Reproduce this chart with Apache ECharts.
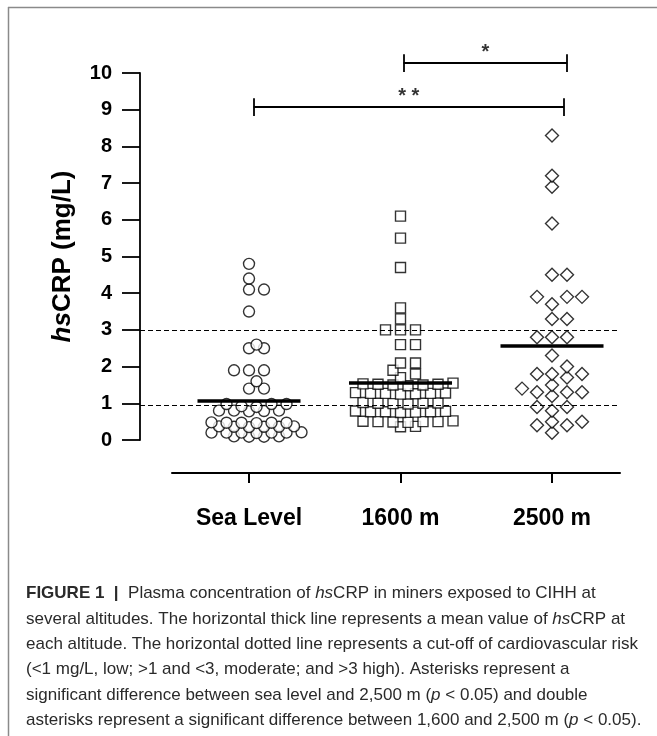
<!DOCTYPE html>
<html><head><meta charset="utf-8">
<script src="https://cdn.jsdelivr.net/npm/echarts@6/dist/echarts.min.js"></script>
<style>html,body{margin:0;padding:0;background:#fff}#c{width:657px;height:736px}</style>
</head><body><div id="c"></div>
<script>
const categories = ['Sea Level', '1600 m', '2500 m'];
const seaLevel = [4.8, 4.4, 4.1, 4.1, 3.5, 2.6, 2.5, 2.5, 1.9, 1.9, 1.9, 1.6, 1.4, 1.4,
  0.98, 0.98, 0.98, 0.92, 0.9, 0.8, 0.8, 0.8, 0.79, 0.78, 0.48, 0.47, 0.47, 0.46, 0.47, 0.47,
  0.36, 0.37, 0.35, 0.36, 0.36, 0.37, 0.2, 0.21, 0.2, 0.2, 0.19, 0.2, 0.2, 0.1, 0.09, 0.09, 0.1];
const alt1600 = [6.1, 5.5, 4.7, 3.6, 3.3, 3.0, 3.0, 3.0, 2.6, 2.6, 2.1, 2.1, 1.9, 1.8, 1.7,
  1.52, 1.5, 1.55, 1.5, 1.52, 1.48, 1.53, 1.27, 1.28, 1.26, 1.27, 1.25, 1.29, 1.27,
  1.0, 1.01, 0.99, 1.0, 1.02, 0.98, 0.77, 0.78, 0.76, 0.77, 0.79, 0.75, 0.77,
  0.5, 0.51, 0.49, 0.5, 0.52, 0.48, 0.5, 0.36, 0.37];
const alt2500 = [8.3, 7.2, 6.9, 5.9, 4.5, 4.5, 3.9, 3.9, 3.9, 3.7, 3.3, 3.3, 2.8, 2.8, 2.8,
  2.3, 2.0, 1.8, 1.8, 1.7, 1.8, 1.5, 1.4, 1.3, 1.3, 1.3, 1.2, 0.9, 0.9, 0.8, 0.5, 0.4, 0.4, 0.5, 0.2];
const meanValues = [1.06, 1.55, 2.56];
const cutoffValues = [3.0, 0.94];
const sigBars = [
  { from: 1.03, to: 3.08, level: 9.07, text: '* *' },
  { from: 2.02, to: 3.10, level: 10.27, text: '*' }
];
const captionLines = [
  '{b|FIGURE 1  |}  Plasma concentration of {i|hs}CRP in miners exposed to CIHH at',
  'several altitudes. The horizontal thick line represents a mean value of {i|hs}CRP at',
  'each altitude. The horizontal dotted line represents a cut-off of cardiovascular risk',
  '(<1 mg/L, low; >1 and <3, moderate; and >3 high). Asterisks represent a',
  'significant difference between sea level and 2,500 m ({i|p} < 0.05) and double',
  'asterisks represent a significant difference between 1,600 and 2,500 m ({i|p} < 0.05).'
];

// layout constants (pixels per unit)
const PX_X = 151.5, PX_Y = 36.7;
function swarm(vals, center, d) {
  const step = 7.5;
  const placed = [];
  const ks = [0];
  for (let k = 1; k <= 16; k++) ks.push(k, -k);
  return vals.slice().sort((a, b) => a - b).map(v => {
    const py = v * PX_Y;
    for (const k of ks) {
      const px = k * step;
      if (placed.every(p => (p[0] - px) ** 2 + (p[1] - py) ** 2 >= d * d)) {
        placed.push([px, py]);
        return [center + px / PX_X, v];
      }
    }
    return [center, v];
  });
}

const FONT = "'Liberation Sans', Arial, sans-serif";
const chart = echarts.init(document.getElementById('c'), null, { renderer: 'canvas' });
const marker = { color: '#fff', borderColor: '#000', borderWidth: 1.4 };
const half = 0.34;
const capH = 0.24;

const sigSegs = [];
sigBars.forEach(b => {
  sigSegs.push({ coords: [[b.from, b.level], [b.to, b.level]] });
  sigSegs.push({ coords: [[b.from, b.level - capH], [b.from, b.level + capH]] });
  sigSegs.push({ coords: [[b.to, b.level - capH], [b.to, b.level + capH]] });
});

const CAP_FILL = '#2a2a2a';
chart.setOption({
  animation: false,
  backgroundColor: '#fff',
  grid: [
    { left: 140, top: 73, width: 479, height: 367 },
    { left: 172, top: 472, width: 448, height: 1 }
  ],
  xAxis: [
    { type: 'value', gridIndex: 0, min: 0.2805, max: 3.4422, show: false },
    {
      type: 'value', gridIndex: 1, min: 0.4917, max: 3.4488,
      axisLine: { show: true, lineStyle: { color: '#000', width: 2 } },
      axisTick: { show: true, customValues: [1, 2, 3], length: 10, lineStyle: { color: '#000', width: 2 } },
      axisLabel: {
        customValues: [1, 2, 3], formatter: v => categories[Math.round(v) - 1],
        fontSize: 23, fontWeight: 'bold', color: '#000', fontFamily: FONT, margin: 34
      },
      splitLine: { show: false }
    }
  ],
  yAxis: [
    {
      type: 'value', gridIndex: 0, min: 0, max: 10, interval: 1,
      name: '{i|hs}{b|CRP (mg/L)}', nameLocation: 'middle', nameGap: 64,
      nameTextStyle: {
        fontSize: 26, fontWeight: 'bold', color: '#000', fontFamily: FONT,
        rich: {
          i: { fontSize: 26, fontWeight: 'bold', fontStyle: 'italic', color: '#000', fontFamily: FONT },
          b: { fontSize: 26, fontWeight: 'bold', color: '#000', fontFamily: FONT }
        }
      },
      axisLine: { show: true, lineStyle: { color: '#000', width: 1.8 } },
      axisTick: { show: true, length: 18, lineStyle: { color: '#000', width: 1.8 } },
      axisLabel: { fontSize: 20, fontWeight: 'bold', color: '#000', fontFamily: FONT, margin: 28 },
      splitLine: { show: false }
    },
    { type: 'value', gridIndex: 1, show: false }
  ],
  series: [
    {
      type: 'scatter', xAxisIndex: 0, yAxisIndex: 0, symbol: 'circle', symbolSize: 11,
      itemStyle: marker, data: swarm(seaLevel, 1, 8), silent: true, z: 3,
      markLine: {
        silent: true, symbol: ['none', 'none'], label: { show: false },
        lineStyle: { type: [5, 3], color: '#000', width: 1.2 },
        data: cutoffValues.map(v => ({ yAxis: v }))
      }
    },
    {
      type: 'scatter', xAxisIndex: 0, yAxisIndex: 0, symbol: 'rect', symbolSize: 10,
      itemStyle: marker, data: swarm(alt1600, 2, 8.5), silent: true, z: 3
    },
    {
      type: 'scatter', xAxisIndex: 0, yAxisIndex: 0, symbol: 'diamond', symbolSize: 13,
      itemStyle: marker, data: swarm(alt2500, 3, 11), silent: true, z: 3
    },
    {
      type: 'lines', coordinateSystem: 'cartesian2d', xAxisIndex: 0, yAxisIndex: 0, silent: true, z: 4,
      lineStyle: { color: '#000', width: 3.5, opacity: 1 },
      data: meanValues.map((m, i) => ({ coords: [[i + 1 - half, m], [i + 1 + half, m]] }))
    },
    {
      type: 'lines', coordinateSystem: 'cartesian2d', xAxisIndex: 0, yAxisIndex: 0, silent: true, clip: false, z: 4,
      lineStyle: { color: '#000', width: 1.8, opacity: 1 },
      data: sigSegs
    },
    {
      type: 'scatter', xAxisIndex: 0, yAxisIndex: 0, symbolSize: 0, silent: true, clip: false, z: 5,
      data: sigBars.map(b => ({ value: [(b.from + b.to) / 2, b.level], name: b.text })),
      label: {
        show: true, position: 'top', distance: 1, formatter: p => p.name,
        fontSize: 20, fontWeight: 'bold', color: '#000', fontFamily: FONT
      }
    }
  ],
  graphic: [
    { type: 'line', shape: { x1: 8, y1: 7.5, x2: 657, y2: 7.5 }, style: { stroke: '#8a8a8a', lineWidth: 1.5 }, silent: true },
    { type: 'line', shape: { x1: 8.5, y1: 7, x2: 8.5, y2: 736 }, style: { stroke: '#8a8a8a', lineWidth: 1.5 }, silent: true },
    ...captionLines.map((t, i) => ({
      type: 'text', left: 26, top: 585 + i * 25.4, silent: true,
      style: {
        text: t, fontSize: 17, fontFamily: FONT, fill: CAP_FILL,
        rich: {
          b: { fontSize: 17, fontWeight: 'bold', fontFamily: FONT, fill: CAP_FILL },
          i: { fontSize: 17, fontStyle: 'italic', fontFamily: FONT, fill: CAP_FILL }
        }
      }
    }))
  ]
});
</script></body></html>
